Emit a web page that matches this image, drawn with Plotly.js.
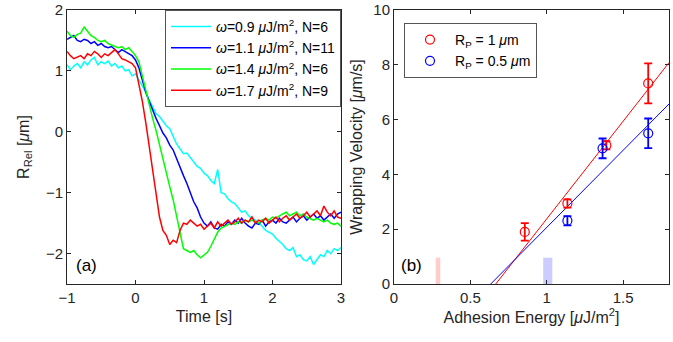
<!DOCTYPE html>
<html>
<head>
<meta charset="utf-8">
<script src="https://cdn.plot.ly/plotly-3.0.1.min.js"></script>
<style>html,body{margin:0;padding:0;background:#fff;}#chart{width:673px;height:342px;}</style>
</head>
<body>
<div id="chart"></div>
<script>
// ---- Panel (a): relative radius vs time ----
const timeS = [-1.00,-0.95,-0.90,-0.85,-0.80,-0.75,-0.70,-0.65,-0.60,-0.55,-0.50,-0.45,-0.40,-0.35,-0.30,-0.25,-0.20,-0.15,-0.10,-0.05,
0.00,0.05,0.10,0.15,0.20,0.25,0.30,0.35,0.40,0.45,0.50,0.55,0.60,0.65,0.70,0.75,0.80,0.85,0.90,0.95,
1.00,1.05,1.10,1.15,1.20,1.25,1.30,1.35,1.40,1.45,1.50,1.55,1.60,1.65,1.70,1.75,1.80,1.85,1.90,1.95,
2.00,2.05,2.10,2.15,2.20,2.25,2.30,2.35,2.40,2.45,2.50,2.55,2.60,2.65,2.70,2.75,2.80,2.85,2.90,2.95,3.00];

const rOmega09 = [1.10,1.02,1.08,1.12,1.05,1.15,1.10,1.18,1.22,1.10,1.15,1.12,1.16,1.08,1.12,1.05,1.08,1.00,1.02,0.92,
0.95,0.85,0.75,0.65,0.52,0.42,0.30,0.25,0.17,0.10,0.05,-0.08,-0.20,-0.28,-0.36,-0.35,-0.42,-0.50,-0.57,-0.60,
-0.68,-0.72,-0.80,-0.85,-0.62,-1.00,-1.02,-1.10,-1.15,-1.18,-1.25,-1.32,-1.30,-1.38,-1.42,-1.45,-1.50,-1.55,-1.62,-1.65,
-1.68,-1.75,-1.80,-1.85,-1.92,-1.95,-1.90,-2.05,-2.02,-2.10,-2.12,-2.05,-2.18,-2.10,-2.02,-2.05,-1.95,-2.00,-1.92,-1.95,-1.90];

const rOmega11 = [1.52,1.55,1.58,1.50,1.48,1.52,1.50,1.45,1.48,1.42,1.45,1.40,1.38,1.40,1.35,1.30,1.35,1.32,1.28,1.25,
1.18,1.05,0.85,0.65,0.50,0.35,0.22,0.10,-0.02,-0.10,-0.22,-0.30,-0.45,-0.60,-0.72,-0.85,-1.00,-1.15,-1.25,-1.40,
-1.50,-1.55,-1.48,-1.58,-1.60,-1.52,-1.55,-1.48,-1.52,-1.45,-1.50,-1.42,-1.50,-1.55,-1.58,-1.50,-1.52,-1.45,-1.55,-1.48,
-1.45,-1.50,-1.42,-1.48,-1.50,-1.45,-1.40,-1.48,-1.42,-1.38,-1.45,-1.40,-1.35,-1.42,-1.38,-1.45,-1.40,-1.35,-1.42,-1.35,-1.32];

const rOmega14 = [1.65,1.58,1.55,1.60,1.62,1.72,1.65,1.58,1.55,1.50,1.48,1.50,1.45,1.42,1.40,1.38,1.40,1.35,1.38,1.32,
1.25,1.15,0.92,0.65,0.45,0.22,0.02,-0.22,-0.45,-0.68,-0.90,-1.12,-1.40,-1.68,-1.92,-1.95,-1.98,-1.95,-2.02,-2.07,
-2.02,-1.98,-1.88,-1.75,-1.65,-1.58,-1.55,-1.52,-1.50,-1.52,-1.48,-1.50,-1.45,-1.48,-1.45,-1.48,-1.50,-1.45,-1.42,-1.45,
-1.40,-1.42,-1.38,-1.35,-1.32,-1.38,-1.35,-1.32,-1.38,-1.35,-1.40,-1.42,-1.45,-1.42,-1.45,-1.48,-1.45,-1.50,-1.52,-1.50,-1.55];

const rOmega17 = [1.32,1.25,1.20,1.22,1.25,1.20,1.28,1.25,1.32,1.28,1.22,1.28,1.25,1.30,1.35,1.28,1.20,1.18,1.15,1.12,
1.05,0.80,0.50,0.15,-0.25,-0.65,-1.05,-1.40,-1.62,-1.70,-1.85,-1.78,-1.82,-1.62,-1.50,-1.52,-1.45,-1.50,-1.55,-1.52,
-1.60,-1.55,-1.50,-1.58,-1.48,-1.55,-1.50,-1.45,-1.52,-1.48,-1.42,-1.50,-1.45,-1.48,-1.40,-1.50,-1.45,-1.48,-1.42,-1.50,
-1.45,-1.40,-1.48,-1.42,-1.38,-1.45,-1.40,-1.35,-1.42,-1.38,-1.32,-1.40,-1.35,-1.30,-1.38,-1.22,-1.32,-1.38,-1.30,-1.40,-1.42];

const seriesNames = [
  "<i>ω</i>=0.9 <i>μ</i>J/m<sup>2</sup>, N=6",
  "<i>ω</i>=1.1 <i>μ</i>J/m<sup>2</sup>, N=11",
  "<i>ω</i>=1.4 <i>μ</i>J/m<sup>2</sup>, N=6",
  "<i>ω</i>=1.7 <i>μ</i>J/m<sup>2</sup>, N=9"
];

// ---- Panel (b): wrapping velocity vs adhesion energy ----
const energy1um = [0.856, 1.135, 1.39, 1.664];
const velocity1um = [1.90, 2.94, 5.06, 7.32];
const err1um = [0.32, 0.15, 0.15, 0.73];

const energy05um = [1.135, 1.365, 1.664];
const velocity05um = [2.31, 4.95, 5.50];
const err05um = [0.17, 0.36, 0.54];

const fitX1um = [0.666, 1.8];
const fitY1um = [0, 8.08];
const fitX05um = [0.633, 1.8];
const fitY05um = [0, 6.57];

const bandCenters = [0.288, 1.0065];
const bandWidths = [0.03, 0.06];
const bandHeights = [0.96, 0.96];

const textColor = '#262626';
const fontFamily = 'Liberation Sans, Arial, sans-serif';
const lineColors = ['#00ffff', '#0000ff', '#00ff00', '#ff0000'];
const rSeries = [rOmega09, rOmega11, rOmega14, rOmega17];

const traces = [];
rSeries.forEach((ys, i) => {
  traces.push({
    x: timeS, y: ys, type: 'scatter', mode: 'lines', name: seriesNames[i],
    line: {color: lineColors[i], width: 1.5}, xaxis: 'x', yaxis: 'y', legend: 'legend'
  });
});

traces.push({
  x: bandCenters, y: bandHeights, width: bandWidths, type: 'bar',
  marker: {color: ['rgba(255,0,0,0.2)', 'rgba(0,0,255,0.2)'], line: {width: 0}},
  xaxis: 'x2', yaxis: 'y2', showlegend: false, hoverinfo: 'skip'
});
traces.push({
  x: fitX1um, y: fitY1um, type: 'scatter', mode: 'lines', line: {color: '#ff0000', width: 1},
  xaxis: 'x2', yaxis: 'y2', showlegend: false
});
traces.push({
  x: fitX05um, y: fitY05um, type: 'scatter', mode: 'lines', line: {color: '#0000ff', width: 1},
  xaxis: 'x2', yaxis: 'y2', showlegend: false
});
traces.push({
  x: energy1um, y: velocity1um, type: 'scatter', mode: 'markers', name: 'R<sub>P</sub> = 1 <i>μ</i>m',
  marker: {symbol: 'circle-open', size: 9, color: '#ff0000', line: {width: 1.2}},
  error_y: {type: 'data', array: err1um, visible: true, color: '#ff0000', thickness: 1.8, width: 4},
  xaxis: 'x2', yaxis: 'y2', legend: 'legend2'
});
traces.push({
  x: energy05um, y: velocity05um, type: 'scatter', mode: 'markers', name: 'R<sub>P</sub> = 0.5 <i>μ</i>m',
  marker: {symbol: 'circle-open', size: 9, color: '#0000ff', line: {width: 1.2}},
  error_y: {type: 'data', array: err05um, visible: true, color: '#0000ff', thickness: 1.8, width: 4},
  xaxis: 'x2', yaxis: 'y2', legend: 'legend2'
});

const axisCommon = {
  showline: true, mirror: 'ticks', ticks: 'inside', ticklen: 4, tickwidth: 1,
  linecolor: textColor, linewidth: 1, tickcolor: textColor,
  showgrid: false, zeroline: false,
  tickfont: {family: fontFamily, size: 15, color: textColor}
};
const titleFont = {family: fontFamily, size: 16, color: textColor};

const layout = {
  width: 673, height: 342,
  margin: {l: 0, r: 0, t: 0, b: 0},
  paper_bgcolor: '#ffffff', plot_bgcolor: '#ffffff',
  font: {family: fontFamily, color: textColor},
  xaxis: Object.assign({}, axisCommon, {
    domain: [67/673, 341/673], range: [-1, 3], tickvals: [-1, 0, 1, 2, 3], anchor: 'y',
    title: {text: 'Time [s]', font: titleFont, standoff: 5}
  }),
  yaxis: Object.assign({}, axisCommon, {
    domain: [58/342, 332/342], range: [-2.5, 2], tickvals: [-2, -1, 0, 1, 2], anchor: 'x',
    title: {text: 'R<sub>Rel</sub> [<i>μ</i>m]', font: titleFont, standoff: 12}
  }),
  xaxis2: Object.assign({}, axisCommon, {
    domain: [394/673, 669/673], range: [0, 1.8], tickvals: [0, 0.5, 1, 1.5], ticktext: ['0', '0.5', '1', '1.5'], anchor: 'y2',
    title: {text: 'Adhesion Energy [<i>μ</i>J/m<sup>2</sup>]', font: titleFont, standoff: 5}
  }),
  yaxis2: Object.assign({}, axisCommon, {
    domain: [58/342, 332/342], range: [0, 10], tickvals: [0, 2, 4, 6, 8, 10], anchor: 'x2',
    title: {text: 'Wrapping Velocity [<i>μ</i>m/s]', font: titleFont, standoff: 6}
  }),
  legend: {
    x: 341/673, xanchor: 'right', y: 1 - 10/342, yanchor: 'top',
    bgcolor: '#ffffff', bordercolor: '#555555', borderwidth: 1,
    font: {family: fontFamily, size: 14, color: '#000000'},
    tracegroupgap: 0, itemwidth: 40
  },
  legend2: {
    x: 404/673, xanchor: 'left', y: 1 - 23/342, yanchor: 'top',
    bgcolor: '#ffffff', bordercolor: '#555555', borderwidth: 1,
    font: {family: fontFamily, size: 14, color: '#000000'},
    itemwidth: 40
  },
  annotations: [
    {text: '(a)', x: -0.9, y: -2.19, xref: 'x', yref: 'y', xanchor: 'left', yanchor: 'middle', showarrow: false,
     font: {family: fontFamily, size: 17, color: '#000000'}},
    {text: '(b)', x: 0.03, y: 0.66, xref: 'x2', yref: 'y2', xanchor: 'left', yanchor: 'middle', showarrow: false,
     font: {family: fontFamily, size: 17, color: '#000000'}}
  ],
  showlegend: true
};

Plotly.newPlot('chart', traces, layout, {displayModeBar: false, staticPlot: true});
</script>
</body>
</html>
